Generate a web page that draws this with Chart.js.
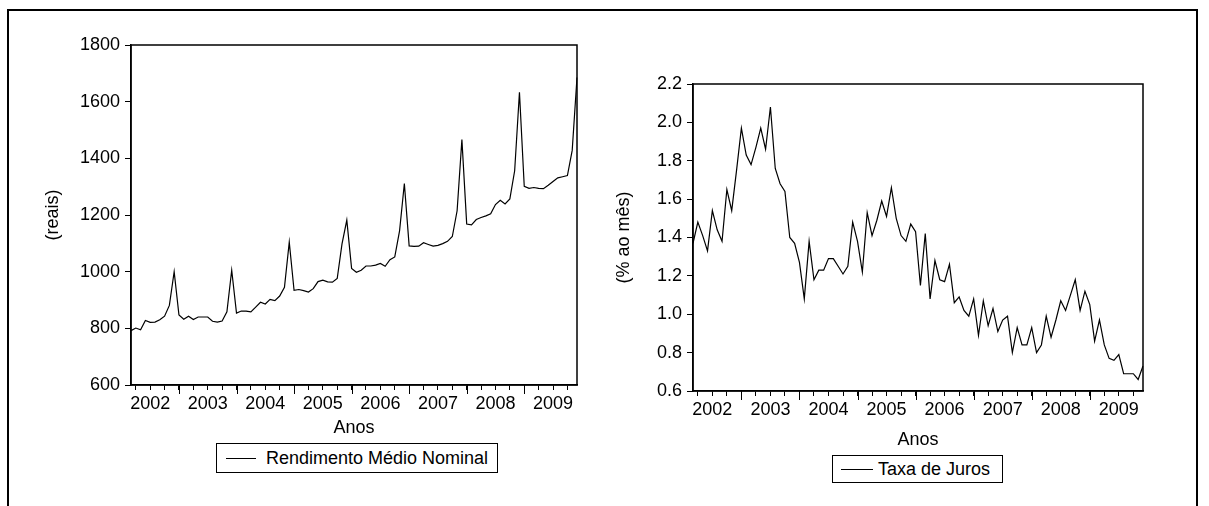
<!DOCTYPE html>
<html lang="pt-BR">
<head>
<meta charset="UTF-8">
<title>Rendimento Médio Nominal e Taxa de Juros</title>
<script src="https://cdn.jsdelivr.net/npm/chart.js"></script>
<style>
    body {
        margin: 0;
        background: #fff;
        width: 1209px;
        height: 506px;
        overflow: hidden;
        position: relative;
        font-family: "Liberation Sans", Arial, sans-serif;
    }

    /* moldura externa da figura */
    .moldura {
        position: absolute;
        left: 7px;
        top: 9px;
        width: 1191px;
        height: 540px;
        border: 2px solid #000;
        box-sizing: border-box;
    }

    .grafico {
        position: absolute;
        left: 0;
        top: 0;
        width: 1209px;
        height: 506px;
    }

    .legenda {
        position: absolute;
        border: 1px solid #000;
        background: #fff;
        font-size: 18px;
        color: #000;
        display: flex;
        align-items: center;
        box-sizing: border-box;
        white-space: nowrap;
    }

    .legenda .traco {
        display: inline-block;
        height: 0;
        border-top: 1.5px solid #000;
    }
</style>
</head>
<body>
<div class="moldura"></div>
<div class="grafico"><canvas id="graficoRendimento"></canvas></div>
<div class="grafico"><canvas id="graficoJuros"></canvas></div>

<div class="legenda" id="legRendimento" style="left:216px; top:443px; width:282px; height:30px; padding-left:9px;">
    <span class="traco" style="width:30px; margin-right:10px;"></span><span></span>
</div>
<div class="legenda" id="legJuros" style="left:832px; top:455px; width:171px; height:28px; padding-left:8px;">
    <span class="traco" style="width:32px; margin-right:5px;"></span><span></span>
</div>

<script>
    // anos (rótulos do eixo x)
    const anos = ['2002', '2003', '2004', '2005', '2006', '2007', '2008', '2009'];

    // rendimento médio nominal (reais), mensal mar/2002 - dez/2009
    const rendimento = [
        792, 801, 795, 828, 821, 822, 830, 843, 881, 1000,
        847, 832, 843, 831, 840, 840, 840, 825, 822, 826, 858, 1005,
        854, 861, 861, 858, 875, 892, 886, 902, 898, 914, 945, 1104,
        934, 937, 933, 928, 940, 965, 970, 964, 963, 976, 1098, 1182,
        1011, 998, 1005, 1020, 1020, 1023, 1029, 1019, 1042, 1052, 1144, 1311,
        1091, 1089, 1090, 1102, 1096, 1090, 1093, 1099, 1107, 1124, 1215, 1466,
        1168, 1165, 1184, 1191, 1197, 1204, 1237, 1252, 1239, 1257, 1356, 1633,
        1301, 1294, 1297, 1294, 1293, 1305, 1318, 1331, 1335, 1339, 1428, 1685
    ];

    // taxa de juros (% ao mês), mesmo período
    const juros = [
        1.37, 1.48, 1.41, 1.33, 1.54, 1.44, 1.38, 1.65, 1.54, 1.75,
        1.97, 1.83, 1.78, 1.87, 1.97, 1.86, 2.08, 1.76, 1.68, 1.64, 1.40, 1.37,
        1.27, 1.08, 1.38, 1.18, 1.23, 1.23, 1.29, 1.29, 1.25, 1.21, 1.25, 1.48,
        1.38, 1.22, 1.53, 1.41, 1.49, 1.59, 1.51, 1.66, 1.50, 1.41, 1.38, 1.47,
        1.43, 1.15, 1.42, 1.08, 1.28, 1.18, 1.17, 1.26, 1.06, 1.09, 1.02, 0.99,
        1.08, 0.89, 1.07, 0.94, 1.03, 0.91, 0.97, 0.99, 0.80, 0.93, 0.84, 0.84,
        0.93, 0.80, 0.84, 0.99, 0.88, 0.97, 1.07, 1.02, 1.10, 1.18, 1.02, 1.12,
        1.05, 0.86, 0.97, 0.84, 0.77, 0.76, 0.79, 0.69, 0.69, 0.69, 0.66, 0.73
    ];

    // meses no formato EViews (2002M03 ...)
    const meses = rendimento.map((_, i) => {
        const m = 2 + i; // jan = 0, começa em março
        return (Number(anos[0]) + Math.floor(m / 12)) + 'M' + String(m % 12 + 1).padStart(2, '0');
    });

    const fonte = { family: '"Liberation Sans", Arial, sans-serif', size: 18 };

    // moldura da área do gráfico + ticks maiores em janeiro
    const molduraPlugin = {
        id: 'moldura',
        afterDraw(chart) {
            const { ctx, chartArea: a, scales: { x } } = chart;
            ctx.save();
            ctx.strokeStyle = '#000';
            ctx.lineWidth = 1.5;
            ctx.strokeRect(a.left, a.top, a.right - a.left, a.bottom - a.top);
            ctx.lineWidth = 1;
            x.ticks.forEach(t => {
                if (meses[t.value].endsWith('M01')) {
                    const px = Math.round(x.getPixelForValue(t.value)) + 0.5;
                    ctx.beginPath();
                    ctx.moveTo(px, a.bottom);
                    ctx.lineTo(px, a.bottom + 9);
                    ctx.stroke();
                }
            });
            ctx.restore();
        }
    };

    function criarGrafico(id, rotulo, valores, y, area) {
        return new Chart(document.getElementById(id), {
            type: 'line',
            data: {
                labels: meses,
                datasets: [{
                    label: rotulo,
                    data: valores,
                    borderColor: '#000',
                    borderWidth: 1.2,
                    pointRadius: 0,
                    tension: 0,
                    fill: false
                }]
            },
            options: {
                responsive: true,
                maintainAspectRatio: false,
                animation: false,
                layout: { padding: area.padding },
                plugins: { legend: { display: false }, tooltip: { enabled: false } },
                scales: {
                    x: {
                        type: 'category',
                        offset: false,
                        afterFit: s => { s.height = area.alturaX; },
                        afterBuildTicks: s => {
                            s.ticks = meses.map((m, i) => ({ value: i }))
                                .filter(t => Number(meses[t.value].slice(5)) % 3 === 1);
                        },
                        grid: { drawOnChartArea: false, tickLength: 5, color: '#000', lineWidth: 1 },
                        border: { display: true, color: '#000', width: 1.5 },
                        ticks: {
                            autoSkip: false,
                            maxRotation: 0,
                            minRotation: 0,
                            padding: 3,
                            color: '#000',
                            font: fonte,
                            callback: function (value) {
                                const lab = this.getLabelForValue(value);
                                const ano = lab.slice(0, 4);
                                return lab.endsWith('M07') && anos.includes(ano) ? ano : '';
                            }
                        },
                        title: {
                            display: true,
                            text: 'Anos',
                            color: '#000',
                            font: fonte,
                            padding: { top: 0, bottom: area.padAnos }
                        }
                    },
                    y: {
                        min: y.min,
                        max: y.max,
                        afterFit: s => { s.width = area.larguraY; },
                        grid: { drawOnChartArea: false, tickLength: 6, color: '#000', lineWidth: 1 },
                        border: { display: true, color: '#000', width: 1.5 },
                        ticks: {
                            stepSize: y.passo,
                            padding: 5,
                            color: '#000',
                            font: fonte,
                            callback: v => Number(v).toFixed(y.casas)
                        },
                        title: {
                            display: true,
                            text: y.titulo,
                            color: '#000',
                            font: fonte,
                            padding: { top: area.padTituloY, bottom: 0 }
                        }
                    }
                }
            },
            plugins: [molduraPlugin]
        });
    }

    const chart1 = criarGrafico('graficoRendimento', 'Rendimento Médio Nominal', rendimento,
        { min: 600, max: 1800, passo: 200, casas: 0, titulo: '(reais)' },
        { padding: { left: 30, top: 45, right: 632, bottom: 61 }, larguraY: 101, alturaX: 60, padAnos: 6, padTituloY: 12 });

    const chart2 = criarGrafico('graficoJuros', 'Taxa de Juros', juros,
        { min: 0.6, max: 2.2, passo: 0.2, casas: 1, titulo: '(% ao mês)' },
        { padding: { left: 600, top: 84, right: 66, bottom: 53 }, larguraY: 93, alturaX: 62, padAnos: 2, padTituloY: 13 });

    // legendas com o nome de cada série
    document.querySelector('#legRendimento span:last-child').textContent = chart1.data.datasets[0].label;
    document.querySelector('#legJuros span:last-child').textContent = chart2.data.datasets[0].label;
</script>
</body>
</html>
